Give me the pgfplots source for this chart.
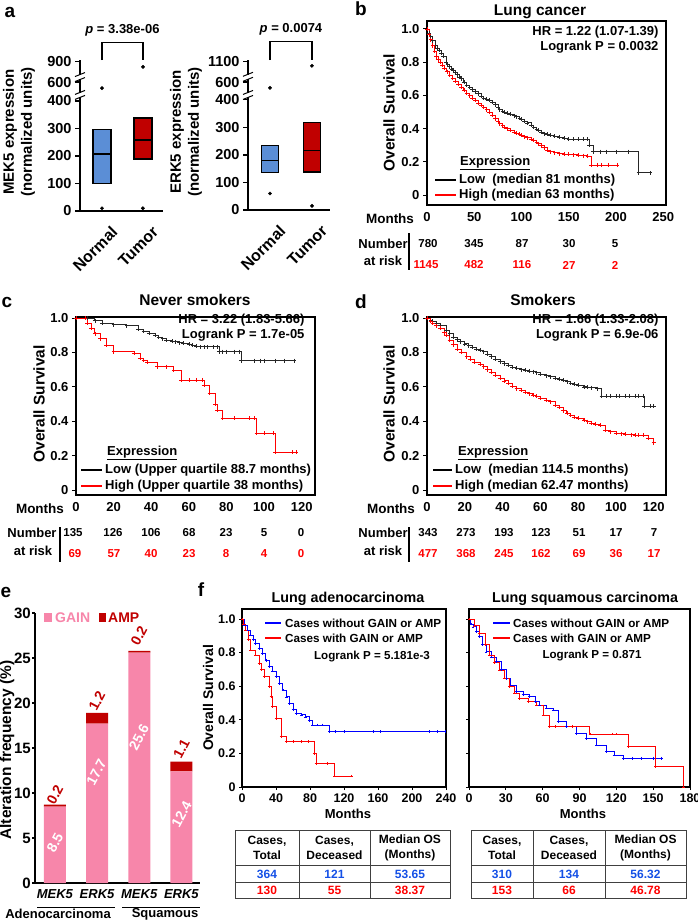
\documentclass[border=0pt]{standalone}
\usepackage{fontspec}
\setmainfont{Liberation Sans}
\usepackage{pgfplots}
\pgfplotsset{compat=1.18}

\newcommand{\fs}[1]{\fontsize{#1}{#1}\selectfont\bfseries}

\definecolor{boxblue}{RGB}{91,142,214}
\definecolor{boxred}{RGB}{192,0,0}
\definecolor{gainpink}{RGB}{247,134,170}
\definecolor{ampred}{RGB}{192,0,0}
\definecolor{kmred}{RGB}{255,0,0}
\definecolor{kmblue}{RGB}{0,0,255}
\definecolor{tblblue}{RGB}{20,80,230}

\pgfplotsset{
  /pgf/number format/assume math mode=true,
  km/.style={const plot, line width=0.7pt, mark=+, mark size=2pt, mark options={line width=0.6pt}},
  kmaxis/.style={scale only axis, anchor=south west, axis line style={line width=1.3pt},
    tick align=outside, major tick length=4pt, tick style={line width=1pt, black},
    xtick pos=bottom, ytick pos=left, ticklabel style={font=\fs{13}},
    ytick={0,0.2,0.4,0.6,0.8,1}, yticklabels={0,0.2,0.4,0.6,0.8,1.0}},
  barax/.style={scale only axis, anchor=south west, axis x line=bottom, axis y line=left,
    axis line style={-, line width=1.3pt}, tick align=outside, major tick length=5pt,
    ytick style={line width=1.1pt, black}, xtick style={draw=none}, clip=false},
  box/.style={line width=1.2pt, draw=black},
}

\begin{document}
\begin{tikzpicture}[x=1pt,y=1pt]
\useasboundingbox (0,0) rectangle (698,-921);

% panel letters
\node[font=\fs{19}] at (10,-12) {a};
\node[font=\fs{19}] at (361,-9) {b};
\node[font=\fs{19}] at (7,-302) {c};
\node[font=\fs{19}] at (361,-302) {d};
\node[font=\fs{19}] at (6,-592) {e};
\node[font=\fs{19}] at (201,-590) {f};

% ---------------- a: MEK5
\begin{axis}[barax, at={(80pt,-211pt)}, width=83pt, height=151pt,
  xmin=-0.537, xmax=1.49, ymin=0, ymax=549,
  xtick={0,1}, xticklabels={Normal,Tumor},
  xticklabel style={xshift=15pt, yshift=-11pt, rotate=45, anchor=east, font=\fs{16}},
  ytick={0,100,200,300,400,469,542}, yticklabels={0,100,200,300,400,600,900},
  yticklabel style={font=\fs{14.5}}]
\addplot[box, fill=boxblue] coordinates {(-0.22,100) (0.22,100) (0.22,295) (-0.22,295)} -- cycle;
\addplot[box] coordinates {(-0.22,207) (0.22,207)};
\addplot[box, fill=boxred] coordinates {(0.78,189) (1.22,189) (1.22,338) (0.78,338)} -- cycle;
\addplot[box] coordinates {(0.78,258) (1.22,258)};
\addplot[only marks, mark=*, mark size=1.7pt, black] coordinates {(0,10) (0,447) (1,10) (1,524)};
\fill[white] ([xshift=-2pt,yshift=-2pt]axis cs:-0.537,422) rectangle ([xshift=2pt,yshift=2pt]axis cs:-0.537,422);
\draw[line width=1pt] ([xshift=-5pt,yshift=-4.5pt]axis cs:-0.537,422) -- ([xshift=5pt,yshift=-0.5pt]axis cs:-0.537,422);
\draw[line width=1pt] ([xshift=-5pt,yshift=0.5pt]axis cs:-0.537,422) -- ([xshift=5pt,yshift=4.5pt]axis cs:-0.537,422);
\fill[white] ([xshift=-2pt,yshift=-2pt]axis cs:-0.537,487) rectangle ([xshift=2pt,yshift=2pt]axis cs:-0.537,487);
\draw[line width=1pt] ([xshift=-5pt,yshift=-4.5pt]axis cs:-0.537,487) -- ([xshift=5pt,yshift=-0.5pt]axis cs:-0.537,487);
\draw[line width=1pt] ([xshift=-5pt,yshift=0.5pt]axis cs:-0.537,487) -- ([xshift=5pt,yshift=4.5pt]axis cs:-0.537,487);
\draw[line width=1.2pt] (axis cs:0,549) -- (axis cs:0,614) -- (axis cs:1,614) -- (axis cs:1,549);
\node[font=\fs{13}] at (axis cs:0.5,657) {\textit{p} = 3.38e-06};
\end{axis}
\node[rotate=90, align=center, font=\fontsize{15}{18}\selectfont\bfseries] at (19,-132) {MEK5 expression\\(normalized units)};

% ---------------- a: ERK5
\begin{axis}[barax, at={(248pt,-210pt)}, width=82pt, height=150pt,
  xmin=-0.524, xmax=1.43, ymin=0, ymax=545,
  xtick={0,1}, xticklabels={Normal,Tumor},
  xticklabel style={xshift=15pt, yshift=-11pt, rotate=45, anchor=east, font=\fs{16}},
  ytick={0,100,200,300,400,465,538}, yticklabels={0,100,200,300,400,600,1100},
  yticklabel style={font=\fs{14.5}}]
\addplot[box, fill=boxblue] coordinates {(-0.2,135) (0.2,135) (0.2,233) (-0.2,233)} -- cycle;
\addplot[box] coordinates {(-0.2,180) (0.2,180)};
\addplot[box, fill=boxred] coordinates {(0.8,138) (1.2,138) (1.2,318) (0.8,318)} -- cycle;
\addplot[box] coordinates {(0.8,215) (1.2,215)};
\addplot[only marks, mark=*, mark size=1.7pt, black] coordinates {(0,60) (0,444) (1,15) (1,524)};
\fill[white] ([xshift=-2pt,yshift=-2pt]axis cs:-0.524,418) rectangle ([xshift=2pt,yshift=2pt]axis cs:-0.524,418);
\draw[line width=1pt] ([xshift=-5pt,yshift=-4.5pt]axis cs:-0.524,418) -- ([xshift=5pt,yshift=-0.5pt]axis cs:-0.524,418);
\draw[line width=1pt] ([xshift=-5pt,yshift=0.5pt]axis cs:-0.524,418) -- ([xshift=5pt,yshift=4.5pt]axis cs:-0.524,418);
\fill[white] ([xshift=-2pt,yshift=-2pt]axis cs:-0.524,484) rectangle ([xshift=2pt,yshift=2pt]axis cs:-0.524,484);
\draw[line width=1pt] ([xshift=-5pt,yshift=-4.5pt]axis cs:-0.524,484) -- ([xshift=5pt,yshift=-0.5pt]axis cs:-0.524,484);
\draw[line width=1pt] ([xshift=-5pt,yshift=0.5pt]axis cs:-0.524,484) -- ([xshift=5pt,yshift=4.5pt]axis cs:-0.524,484);
\draw[line width=1.2pt] (axis cs:0,545) -- (axis cs:0,611) -- (axis cs:1,611) -- (axis cs:1,545);
\node[font=\fs{13}] at (axis cs:0.5,655) {\textit{p} = 0.0074};
\end{axis}
\node[rotate=90, align=center, font=\fontsize{15}{18}\selectfont\bfseries] at (186,-132) {ERK5 expression\\(normalized units)};

% ---------------- b: Lung cancer
\node[font=\fs{15.5}] at (540,-12) {Lung cancer};
\begin{axis}[kmaxis, at={(427pt,-205pt)}, width=239pt, height=184pt,
  xmin=0, xmax=253, ymin=-0.06, ymax=1.048, xtick={0,50,...,250}, xtick style={draw=none}]
\addplot[km, black!85] coordinates {(0,1.0) (2,0.975) (4,0.955) (6,0.93) (9,0.90) (11,0.885) (13,0.873) (15,0.855) (17,0.835) (20,0.80) (22,0.785) (24,0.773) (26,0.76) (28,0.75) (30,0.737) (32,0.725) (34,0.712) (36,0.70) (39,0.68) (42,0.663) (45,0.648) (48,0.635) (51,0.622) (54,0.61) (57,0.597) (60,0.585) (63,0.578) (66,0.57) (69,0.558) (72,0.545) (75,0.528) (77,0.515) (80,0.506) (82,0.50) (85,0.492) (88,0.485) (92,0.478) (95,0.472) (98,0.462) (100,0.455) (103,0.445) (106,0.435) (110,0.42) (113,0.41) (116,0.398) (118,0.39) (121,0.38) (124,0.37) (127,0.365) (130,0.36) (135,0.355) (140,0.35) (145,0.342) (150,0.335) (155,0.335) (160,0.335) (165,0.335) (170,0.335) (172,0.30) (176,0.262) (183,0.262) (190,0.262) (200,0.262) (213,0.262) (224,0.134) (236,0.134)};
\addplot[km, kmred] coordinates {(0,1.0) (2,0.965) (4,0.935) (6,0.90) (8,0.865) (10,0.833) (12,0.815) (14,0.80) (16,0.782) (18,0.765) (21,0.743) (24,0.723) (27,0.703) (30,0.685) (33,0.667) (36,0.65) (39,0.63) (42,0.612) (45,0.598) (48,0.585) (51,0.57) (54,0.555) (57,0.542) (60,0.53) (63,0.515) (66,0.50) (69,0.48) (72,0.46) (75,0.442) (77,0.43) (80,0.418) (82,0.41) (85,0.40) (88,0.39) (92,0.38) (95,0.371) (98,0.365) (100,0.36) (103,0.352) (106,0.345) (110,0.338) (113,0.331) (116,0.32) (118,0.31) (121,0.298) (124,0.285) (127,0.272) (130,0.261) (135,0.255) (140,0.25) (145,0.248) (150,0.247) (155,0.243) (160,0.24) (165,0.238) (170,0.235) (174,0.181) (180,0.181) (185,0.181) (192,0.181) (201,0.181)};
\end{axis}
\node[rotate=90, font=\fs{15.5}] at (389,-113) {Overall Survival};
\node[anchor=east, font=\fs{13}] at (662,-32) {HR = 1.22 (1.07-1.39)};
\node[anchor=east, font=\fs{13}] at (662,-47) {Logrank P = 0.0032};
\node[anchor=west, inner sep=0, font=\fs{13}] at (460,-163) {\underline{Expression}};
\draw[line width=1.6pt, black] (435,-180) -- (456,-180);
\draw[line width=1.6pt, kmred] (435,-195) -- (456,-195);
\node[anchor=west, inner sep=0, font=\fs{13}] at (459,-180) {Low~ (median 81 months)};
\node[anchor=west, inner sep=0, font=\fs{13}] at (459,-195) {High (median 63 months)};
\node[font=\fs{13.5}] at (390,-219) {Months};
\node[font=\fs{13}] at (383,-244) {Number};
\node[font=\fs{13}] at (383,-261) {at risk};
\draw[line width=1.2pt] (409,-233) -- (409,-270);
\begin{scope}[font=\fs{11.5}]
\node at (428,-244) {780}; \node at (474,-244) {345}; \node at (522,-244) {87}; \node at (569,-244) {30}; \node at (615,-244) {5};
\node[text=kmred] at (426,-265) {1145}; \node[text=kmred] at (474,-265) {482}; \node[text=kmred] at (522,-265) {116}; \node[text=kmred] at (569,-265) {27}; \node[text=kmred] at (615,-265) {2};
\end{scope}

% ---------------- c: Never smokers
\node[font=\fs{15.5}] at (195,-300) {Never smokers};
\begin{axis}[kmaxis, at={(76pt,-495pt)}, width=239pt, height=178pt,
  xmin=0, xmax=127.1, ymin=-0.029, ymax=1.006, xtick={0,20,...,120}, xtick style={draw=none}]
\addplot[km, black!85] coordinates {(0,1.0) (6,1.0) (10,0.985) (14,0.969) (20,0.962) (27,0.955) (33,0.935) (36,0.922) (39,0.911) (42,0.90) (44,0.89) (46,0.88) (48,0.872) (51,0.866) (53,0.862) (55,0.857) (57,0.853) (60,0.848) (62,0.843) (64,0.838) (66,0.833) (68,0.833) (70,0.833) (73,0.833) (75,0.833) (76,0.804) (78,0.804) (80,0.804) (84,0.804) (87,0.804) (88,0.752) (95,0.752) (98,0.752) (100,0.752) (106,0.752) (111,0.752) (116,0.752)};
\addplot[km, kmred] coordinates {(0,1.0) (5,1.0) (6,0.97) (8,0.94) (10,0.91) (13,0.88) (16,0.843) (20,0.804) (31,0.795) (34,0.766) (36,0.755) (38,0.745) (43,0.717) (48,0.717) (52,0.698) (56,0.64) (60,0.64) (64,0.64) (67,0.64) (68,0.61) (71,0.562) (74,0.50) (75,0.465) (78,0.417) (84,0.417) (92,0.417) (95,0.417) (96,0.33) (100,0.33) (105,0.33) (106,0.219) (115,0.219) (117,0.219)};
\end{axis}
\node[rotate=90, font=\fs{15.5}] at (39,-404) {Overall Survival};
\node[anchor=east, font=\fs{13}] at (308,-320) {HR = 3.22 (1.83-5.66)};
\node[anchor=east, font=\fs{13}] at (308,-335) {Logrank P = 1.7e-05};
\node[anchor=west, inner sep=0, font=\fs{13}] at (107,-453) {\underline{Expression}};
\draw[line width=1.6pt, black] (81,-470) -- (102,-470);
\draw[line width=1.6pt, kmred] (81,-486) -- (102,-486);
\node[anchor=west, inner sep=0, font=\fs{13}] at (105,-470) {Low (Upper quartile 88.7 months)};
\node[anchor=west, inner sep=0, font=\fs{13}] at (105,-486) {High (Upper quartile 38 months)};
\node[font=\fs{13.5}] at (40,-509) {Months};
\node[font=\fs{13}] at (32,-533) {Number};
\node[font=\fs{13}] at (33,-551) {at risk};
\draw[line width=1.2pt] (60,-527) -- (60,-562);
\begin{scope}[font=\fs{11.5}]
\node at (73,-533) {135}; \node at (113,-533) {126}; \node at (151,-533) {106}; \node at (189,-533) {68}; \node at (226,-533) {23}; \node at (264,-533) {5}; \node at (301,-533) {0};
\node[text=kmred] at (75,-554) {69}; \node[text=kmred] at (114,-554) {57}; \node[text=kmred] at (151,-554) {40}; \node[text=kmred] at (189,-554) {23}; \node[text=kmred] at (226,-554) {8}; \node[text=kmred] at (264,-554) {4}; \node[text=kmred] at (301,-554) {0};
\end{scope}

% ---------------- d: Smokers
\node[font=\fs{15.5}] at (543,-300) {Smokers};
\begin{axis}[kmaxis, at={(427pt,-495pt)}, width=239pt, height=178pt,
  xmin=0, xmax=126.5, ymin=-0.029, ymax=1.006, xtick={0,20,...,120}, xtick style={draw=none}]
\addplot[km, black!85] coordinates {(0,1.0) (2,0.985) (3,0.98) (5,0.97) (7,0.96) (10,0.93) (12,0.91) (14,0.89) (16,0.875) (17.5,0.862) (20,0.85) (22,0.84) (24,0.83) (26,0.82) (28,0.812) (30,0.804) (32,0.79) (34,0.775) (36,0.76) (38.6,0.746) (41,0.735) (43,0.725) (45,0.716) (47.5,0.707) (50,0.70) (52,0.697) (54,0.692) (56,0.688) (58,0.682) (60,0.675) (63,0.665) (65,0.659) (68,0.652) (70,0.645) (72,0.637) (74,0.63) (76,0.622) (78,0.615) (80,0.608) (83,0.60) (85,0.598) (87,0.595) (90,0.59) (92.4,0.547) (95,0.547) (97,0.547) (100,0.547) (102,0.547) (105,0.547) (107,0.547) (110,0.547) (112,0.547) (114.5,0.547) (115,0.488) (118,0.488) (120,0.488)};
\addplot[km, kmred] coordinates {(0,1.0) (2,0.98) (3,0.97) (5,0.955) (7,0.94) (9,0.915) (10,0.90) (12,0.872) (14,0.845) (16,0.82) (18,0.80) (21,0.775) (23,0.76) (25,0.745) (28,0.73) (30,0.717) (32,0.70) (34,0.685) (36,0.668) (38.6,0.65) (41,0.635) (43,0.62) (45,0.605) (47.5,0.59) (50,0.58) (52,0.57) (54,0.561) (56,0.552) (58,0.544) (60,0.535) (63,0.522) (65,0.513) (68,0.495) (70,0.48) (72,0.462) (74,0.446) (76,0.436) (78,0.425) (80,0.418) (83,0.407) (85,0.398) (87,0.39) (89,0.384) (91.5,0.378) (94.4,0.349) (97,0.34) (100,0.33) (103,0.328) (105,0.325) (108,0.322) (110,0.32) (112,0.32) (114.5,0.32) (117,0.30) (120,0.275)};
\end{axis}
\node[rotate=90, font=\fs{15.5}] at (389,-404) {Overall Survival};
\node[anchor=east, font=\fs{13}] at (662,-320) {HR = 1.66 (1.33-2.08)};
\node[anchor=east, font=\fs{13}] at (662,-335) {Logrank P = 6.9e-06};
\node[anchor=west, inner sep=0, font=\fs{13}] at (458,-453) {\underline{Expression}};
\draw[line width=1.6pt, black] (433,-470) -- (452,-470);
\draw[line width=1.6pt, kmred] (433,-486) -- (452,-486);
\node[anchor=west, inner sep=0, font=\fs{13}] at (455,-470) {Low~ (median 114.5 months)};
\node[anchor=west, inner sep=0, font=\fs{13}] at (455,-486) {High (median 62.47 months)};
\node[font=\fs{13.5}] at (391,-509) {Months};
\node[font=\fs{13}] at (383,-533) {Number};
\node[font=\fs{13}] at (383,-551) {at risk};
\draw[line width=1.2pt] (409,-527) -- (409,-562);
\begin{scope}[font=\fs{11.5}]
\node at (428,-533) {343}; \node at (466,-533) {273}; \node at (504,-533) {193}; \node at (541,-533) {123}; \node at (579,-533) {51}; \node at (616,-533) {17}; \node at (654,-533) {7};
\node[text=kmred] at (428,-554) {477}; \node[text=kmred] at (466,-554) {368}; \node[text=kmred] at (504,-554) {245}; \node[text=kmred] at (541,-554) {162}; \node[text=kmred] at (579,-554) {69}; \node[text=kmred] at (616,-554) {36}; \node[text=kmred] at (654,-554) {17};
\end{scope}

% ---------------- e: alteration frequency
\begin{axis}[barax, at={(35pt,-883pt)}, width=165pt, height=270pt,
  xmin=-0.474, xmax=3.44, ymin=0, ymax=30, ybar stacked, bar width=22pt,
  xtick={0,1,2,3}, xticklabels={\textit{MEK5},\textit{ERK5},\textit{MEK5},\textit{ERK5}},
  xticklabel style={font=\fs{13}}, major tick length=3pt,
  ytick={0,5,...,30}, yticklabel style={font=\fs{15}, inner sep=1pt}]
\addplot[fill=gainpink, draw=none] coordinates {(0,8.5) (1,17.7) (2,25.6) (3,12.4)};
\addplot[fill=ampred, draw=none] coordinates {(0,0.2) (1,1.2) (2,0.2) (3,1.1)};
\end{axis}
\begin{scope}[font=\fs{14}]
\node[rotate=62, text=white] at (55,-843) {8.5};
\node[rotate=62, text=white] at (96.5,-772) {17.7};
\node[rotate=62, text=white] at (139,-737) {25.6};
\node[rotate=62, text=white] at (181.5,-814) {12.4};
\node[rotate=62, text=ampred] at (55,-795) {0.2};
\node[rotate=62, text=ampred] at (97,-701) {1.2};
\node[rotate=62, text=ampred] at (139,-636) {0.2};
\node[rotate=62, text=ampred] at (181.5,-749) {1.1};
\end{scope}
\node[rotate=90, font=\fs{15.5}] at (7,-750) {Alteration frequency (\%)};
\fill[gainpink] (44,-613) rectangle (52,-622);
\node[anchor=west, inner sep=0, text=gainpink, font=\fs{14}] at (55,-618) {GAIN};
\fill[ampred] (99,-613) rectangle (106,-622);
\node[anchor=west, inner sep=0, text=ampred, font=\fs{14}] at (108,-618) {AMP};
\draw[line width=1pt] (37,-907) -- (115,-907);
\draw[line width=1pt] (122,-907) -- (200,-907);
\node[font=\fs{13}, inner sep=0] at (58,-914) {Adenocarcinoma};
\node[font=\fs{13}, inner sep=0] at (165,-914) {Squamous};

% ---------------- f: adenocarcinoma
\node[font=\fs{14.3}] at (348,-599) {Lung adenocarcinoma};
\begin{axis}[kmaxis, at={(242pt,-787pt)}, width=204pt, height=178pt,
  xmin=0, xmax=240, ymin=0, ymax=1.06, xtick={0,40,...,240}, major tick length=3pt,
  ticklabel style={font=\fs{12.5}}]
\addplot[km, kmblue, mark size=1.3pt] coordinates {(0,1.0) (3,0.965) (6.3,0.935) (10,0.905) (13,0.88) (16,0.855) (20,0.825) (24,0.795) (28,0.755) (32,0.716) (36,0.69) (40,0.657) (44,0.617) (48,0.577) (52,0.537) (56,0.498) (60,0.46) (63.5,0.439) (70,0.43) (75,0.418) (79,0.395) (83,0.369) (88,0.369) (95,0.369) (103,0.33) (110,0.33) (120,0.33) (155,0.33) (163,0.33) (220,0.33) (230,0.33) (239,0.33)};
\addplot[km, kmred, mark size=1.3pt] coordinates {(0,1.0) (2,0.97) (4.3,0.935) (7,0.88) (10.3,0.815) (16,0.786) (20,0.736) (23,0.70) (26,0.657) (32,0.597) (34,0.54) (36,0.478) (40,0.409) (46,0.30) (52,0.27) (60,0.27) (70,0.27) (78,0.27) (85,0.20) (87,0.141) (100,0.141) (109,0.065) (129,0.065)};
\end{axis}
\node[rotate=90, font=\fs{14}] at (208,-698) {Overall Survival};
\draw[line width=1.6pt, kmblue] (265,-623) -- (281,-623);
\draw[line width=1.6pt, kmred] (265,-638) -- (281,-638);
\node[anchor=west, inner sep=0, font=\fs{11.7}] at (285,-623) {Cases without GAIN or AMP};
\node[anchor=west, inner sep=0, font=\fs{11.7}] at (285,-638) {Cases with GAIN or AMP};
\node[font=\fs{11.6}] at (372,-657) {Logrank P = 5.181e-3};
\node[font=\fs{13}] at (348,-814) {Months};

% ---------------- f: squamous
\node[font=\fs{14.3}] at (585,-599) {Lung squamous carcinoma};
\begin{axis}[kmaxis, at={(469pt,-787pt)}, width=221pt, height=178pt,
  xmin=0, xmax=180, ymin=0, ymax=1.06, xtick={0,30,...,180}, yticklabels={}, major tick length=3pt,
  ticklabel style={font=\fs{12.5}}]
\addplot[km, kmblue, mark size=1.3pt] coordinates {(0,1.0) (1.5,0.97) (3.3,0.954) (6,0.925) (8.7,0.895) (11,0.85) (14,0.805) (18,0.775) (22,0.746) (26,0.70) (30.5,0.647) (34,0.605) (38.6,0.567) (44,0.55) (49.5,0.538) (54,0.51) (57.6,0.488) (63,0.47) (68.5,0.458) (72.6,0.389) (79.4,0.359) (87.5,0.32) (95.7,0.29) (103.9,0.25) (112,0.21) (118,0.19) (125.5,0.171) (133,0.171) (140,0.171) (150,0.171) (156.8,0.171)};
\addplot[km, kmred, mark size=1.3pt] coordinates {(0,1.0) (4,0.96) (8.7,0.915) (13,0.85) (16.9,0.786) (21,0.74) (25,0.696) (29,0.65) (33,0.597) (37,0.56) (41.3,0.528) (48,0.51) (55,0.488) (60.3,0.429) (65.8,0.359) (70,0.359) (84,0.359) (98.4,0.315) (117,0.315) (120,0.315) (129.6,0.24) (152,0.121) (174.5,0.0)};
\end{axis}
\draw[line width=1.6pt, kmblue] (493,-623) -- (510,-623);
\draw[line width=1.6pt, kmred] (493,-638) -- (510,-638);
\node[anchor=west, inner sep=0, font=\fs{11.7}] at (513,-623) {Cases without GAIN or AMP};
\node[anchor=west, inner sep=0, font=\fs{11.7}] at (513,-638) {Cases with GAIN or AMP};
\node[font=\fs{11.6}] at (592,-656) {Logrank P = 0.871};
\node[font=\fs{13}] at (583,-814) {Months};

% ---------------- f: tables
\begin{scope}[line width=1pt, draw=black!75]
\draw (235,-830) rectangle (450,-898);
\draw (235,-865) -- (450,-865);
\draw (235,-882) -- (450,-882);
\draw (299,-830) -- (299,-898);
\draw (370,-830) -- (370,-898);
\draw (471,-830) rectangle (686,-898);
\draw (471,-865) -- (686,-865);
\draw (471,-882) -- (686,-882);
\draw (533,-830) -- (533,-898);
\draw (605,-830) -- (605,-898);
\end{scope}
\begin{scope}[align=center, font=\fontsize{12}{15}\selectfont\bfseries]
\node at (267,-848) {Cases,\\Total};
\node at (334.5,-848) {Cases,\\Deceased};
\node at (410,-848) {Median OS\\(Months)};
\node at (502,-848) {Cases,\\Total};
\node at (569,-848) {Cases,\\Deceased};
\node at (645.5,-848) {Median OS\\(Months)};
\node[text=tblblue] at (267,-874) {364};
\node[text=tblblue] at (334.5,-874) {121};
\node[text=tblblue] at (410,-874) {53.65};
\node[text=kmred] at (267,-890) {130};
\node[text=kmred] at (334.5,-890) {55};
\node[text=kmred] at (410,-890) {38.37};
\node[text=tblblue] at (502,-874) {310};
\node[text=tblblue] at (569,-874) {134};
\node[text=tblblue] at (645.5,-874) {56.32};
\node[text=kmred] at (502,-890) {153};
\node[text=kmred] at (569,-890) {66};
\node[text=kmred] at (645.5,-890) {46.78};
\end{scope}
\end{tikzpicture}
\end{document}
